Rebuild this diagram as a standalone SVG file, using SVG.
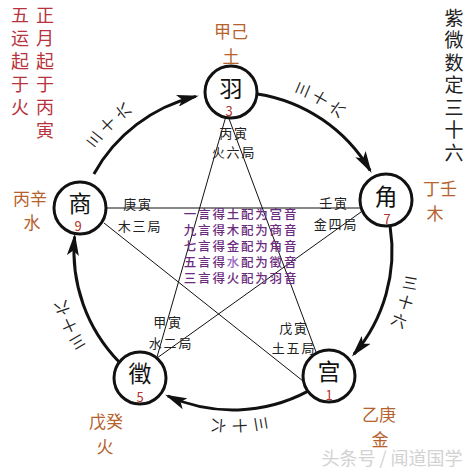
<svg xmlns="http://www.w3.org/2000/svg" width="474" height="473" viewBox="0 0 474 473">
<style>
text{font-family:"Noto Sans CJK SC","Noto Sans",sans-serif;text-anchor:middle;dominant-baseline:central}
.node circle{fill:#fff;stroke:#111;stroke-width:3}
.nc{font-size:23px;fill:#111}
.num{font-size:13px;fill:#b3302c}
.gz{font-size:17px;fill:#b5622c}
.ju{font-size:13px;fill:#222;letter-spacing:1.8px}
.pur{font-size:12.5px;fill:#6b2c80;letter-spacing:1.8px;font-weight:500}
.red{font-size:18px;fill:#b8333e}
.blk{font-size:19px;fill:#222}
.arc{font-size:15px;fill:#222}
.ring{fill:none;stroke:#111;stroke-width:3}
.star{stroke:#111;stroke-width:1;fill:none}
</style>
<defs>
<marker id="ah" markerUnits="userSpaceOnUse" viewBox="0 -6 22 12" refX="19" refY="0" markerWidth="22" markerHeight="12" orient="auto">
<path d="M0,-6 L22,0 L0,6 L5,0 Z" fill="#111"/>
</marker>
</defs>
<rect width="474" height="473" fill="#fff"/>
<g id="connectors">
<path class="ring" marker-end="url(#ah)" d="M93.9,173.9 A159,159 0 0 1 195.9,96.4"/>
<path class="ring" marker-end="url(#ah)" d="M257.3,93.9 A159,159 0 0 1 370.1,170.5"/>
<path class="ring" marker-end="url(#ah)" d="M390.1,226.4 A159,159 0 0 1 353.9,354.3"/>
<path class="ring" marker-end="url(#ah)" d="M307.6,391.4 A159,159 0 0 1 167.8,396.0"/>
<path class="ring" marker-end="url(#ah)" d="M119.2,362.0 A159,159 0 0 1 74.6,236.6"/>
<line class="star" x1="104" y1="208" x2="362" y2="208"/>
<line class="star" x1="104" y1="223" x2="303" y2="381"/>
<line class="star" x1="361" y1="212" x2="157" y2="358"/>
<line class="star" x1="228" y1="116" x2="316" y2="352"/>
<line class="star" x1="226" y1="116" x2="157" y2="357"/>
</g>
<g id="arc-labels">
<g transform="translate(233 251)">
<text class="arc" transform="rotate(-141.5) translate(178 0)">三</text>
<text class="arc" transform="rotate(-135) translate(178 0)">十</text>
<text class="arc" transform="rotate(-128.5) translate(178 0)">六</text>
<text class="arc" transform="rotate(-67) translate(176 0)">三</text>
<text class="arc" transform="rotate(-60.5) translate(176 0)">十</text>
<text class="arc" transform="rotate(-54) translate(176 0)">六</text>
<text class="arc" transform="rotate(10) translate(180 0)">三</text>
<text class="arc" transform="rotate(16.3) translate(180 0)">十</text>
<text class="arc" transform="rotate(22.5) translate(180 0)">六</text>
<text class="arc" transform="rotate(80.5) translate(175 0)">三</text>
<text class="arc" transform="rotate(87.5) translate(175 0)">十</text>
<text class="arc" transform="rotate(94.5) translate(175 0)">六</text>
<text class="arc" transform="rotate(149.3) translate(180 0)">三</text>
<text class="arc" transform="rotate(155.3) translate(180 0)">十</text>
<text class="arc" transform="rotate(161.3) translate(180 0)">六</text>
</g>
</g>
<g id="node-yu" class="node">
<circle cx="231" cy="92" r="26"/>
<text class="nc" x="231" y="87">羽</text>
<text class="num" x="229" y="110">3</text>
</g>
<g id="node-jue" class="node">
<circle cx="386" cy="200" r="26"/>
<text class="nc" x="386" y="195">角</text>
<text class="num" x="387" y="218">7</text>
</g>
<g id="node-gong" class="node">
<circle cx="329" cy="376" r="26"/>
<text class="nc" x="329" y="370">宫</text>
<text class="num" x="329" y="394">1</text>
</g>
<g id="node-zhi" class="node">
<circle cx="140" cy="378" r="26"/>
<text class="nc" x="140" y="372">徵</text>
<text class="num" x="140" y="396">5</text>
</g>
<g id="node-shang" class="node">
<circle cx="80" cy="208" r="26"/>
<text class="nc" x="80" y="202">商</text>
<text class="num" x="78" y="225">9</text>
</g>
<g id="ganzhi">
<text class="gz" x="231" y="30">甲己</text>
<text class="gz" x="231" y="55">土</text>
<text class="gz" x="440" y="187">丁壬</text>
<text class="gz" x="435" y="212">木</text>
<text class="gz" x="379" y="413">乙庚</text>
<text class="gz" x="380" y="438">金</text>
<text class="gz" x="106" y="420">戊癸</text>
<text class="gz" x="105" y="445">火</text>
<text class="gz" x="30" y="197">丙辛</text>
<text class="gz" x="32" y="221">水</text>
</g>
<g id="ju-labels">
<text class="ju" x="234" y="132">丙寅</text>
<text class="ju" x="234" y="151">火六局</text>
<text class="ju" x="138" y="203">庚寅</text>
<text class="ju" x="140" y="225">木三局</text>
<text class="ju" x="334" y="202">壬寅</text>
<text class="ju" x="336" y="223">金四局</text>
<text class="ju" x="168" y="321">甲寅</text>
<text class="ju" x="171" y="342">水二局</text>
<text class="ju" x="294" y="327">戊寅</text>
<text class="ju" x="294" y="347">土五局</text>
</g>
<g id="center-text">
<text class="pur" x="241" y="213">一言得土配为宫音</text>
<text class="pur" x="241" y="229">九言得木配为商音</text>
<text class="pur" x="241" y="245">七言得金配为角音</text>
<text class="pur" x="241" y="261">五言得<tspan fill="#9a66c4">水</tspan>配为徵音</text>
<text class="pur" x="241" y="277">三言得火配为羽音</text>
</g>
<g id="title-left">
<text class="red" x="45" y="14">正</text>
<text class="red" x="45" y="37">月</text>
<text class="red" x="45" y="60">起</text>
<text class="red" x="45" y="83">于</text>
<text class="red" x="45" y="106">丙</text>
<text class="red" x="45" y="129">寅</text>
<text class="red" x="20" y="14">五</text>
<text class="red" x="20" y="37">运</text>
<text class="red" x="20" y="60">起</text>
<text class="red" x="20" y="83">于</text>
<text class="red" x="20" y="106">火</text>
</g>
<g id="title-right">
<text class="blk" x="454" y="16">紫</text>
<text class="blk" x="454" y="38.5">微</text>
<text class="blk" x="454" y="61">数</text>
<text class="blk" x="454" y="83.5">定</text>
<text class="blk" x="454" y="106">三</text>
<text class="blk" x="454" y="128.5">十</text>
<text class="blk" x="454" y="151">六</text>
</g>
<text x="392" y="457" style="font-size:18px;fill:#d2d2d2">头条号 / 闻道国学</text>
</svg>
